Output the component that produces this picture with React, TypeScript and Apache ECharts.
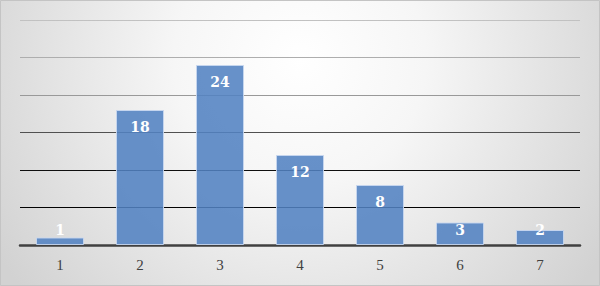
import React, { useEffect, useRef } from "react";
import * as echarts from "echarts";

const categories = ["1", "2", "3", "4", "5", "6", "7"];
const values = [1, 18, 24, 12, 8, 3, 2];
const yMin = 0;
const yMax = 30;
const yInterval = 5;

export default function App() {
  const ref = useRef<HTMLDivElement>(null);
  useEffect(() => {
    document.body.style.margin = "0";
    if (!ref.current) return;
    const chart = echarts.init(ref.current, null, { renderer: "svg" });
    const font = "'Liberation Serif', 'DejaVu Serif', serif";
    const labelFont = "'DejaVu Serif', 'Liberation Serif', serif";
    chart.setOption({
      animation: false,
      backgroundColor: {
        type: "radial",
        x: 300,
        y: 60,
        r: 360,
        global: true,
        colorStops: [
          { offset: 0, color: "#ffffff" },
          { offset: 0.35, color: "#f6f6f6" },
          { offset: 1, color: "#d2d2d2" },
        ],
      },
      graphic: [
        {
          type: "rect",
          shape: { x: 0.5, y: 0.5, width: 599, height: 285 },
          style: { fill: "none", stroke: "#c4c4c4", lineWidth: 1 },
          silent: true,
        },
      ],
      grid: { left: 20, right: 20, top: 20, bottom: 41, containLabel: false },
      xAxis: {
        type: "category",
        data: categories,
        axisTick: { show: false },
        axisLine: { show: true, lineStyle: { color: "#404040", width: 2.5 } },
        axisLabel: { color: "#404040", fontFamily: font, fontSize: 15, margin: 12 },
      },
      yAxis: {
        type: "value",
        min: yMin,
        max: yMax,
        interval: yInterval,
        axisLabel: { show: false },
        axisLine: { show: false },
        axisTick: { show: false },
        splitLine: {
          show: true,
          lineStyle: {
            width: 1,
            color: {
              type: "linear",
              x: 0,
              y: 15,
              x2: 0,
              y2: 215,
              global: true,
              colorStops: [
                { offset: 0, color: "#c4c4c4" },
                { offset: 0.4, color: "#9a9a9a" },
                { offset: 0.75, color: "#111111" },
                { offset: 1, color: "#000000" },
              ],
            },
          },
        },
      },
      series: [
        {
          type: "bar",
          barWidth: "60%",
          data: values.map((v) => ({
            value: v,
            label: v <= 3 ? { position: "insideBottom", distance: 8 } : undefined,
          })),
          itemStyle: {
            color: "rgba(82, 130, 194, 0.88)",
            borderColor: "rgba(200, 215, 240, 0.9)",
            borderWidth: 1,
          },
          label: {
            show: true,
            position: "insideTop",
            distance: 10,
            color: "#ffffff",
            fontFamily: labelFont,
            fontWeight: "bold",
            fontSize: 14,
          },
        },
      ],
    });
    return () => chart.dispose();
  }, []);
  return <div ref={ref} style={{ width: 600, height: 286 }} />;
}
